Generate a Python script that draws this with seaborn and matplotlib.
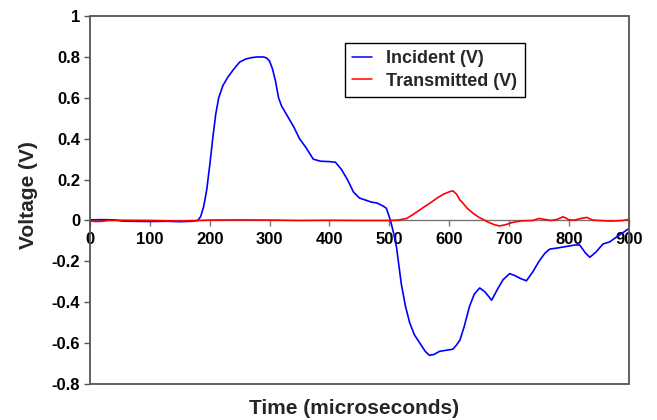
import numpy as np
import pandas as pd
import seaborn as sns
import matplotlib.pyplot as plt
from matplotlib.patches import Rectangle
from matplotlib.lines import Line2D

# Incident signal
inc_time = [0, 20, 40, 55, 70, 100, 130, 150, 170, 180, 185, 190, 195, 200, 205,
            210, 215, 222, 230, 240, 250, 260, 270, 280, 290, 295, 300, 305, 310,
            315, 320, 328, 340, 350, 360, 373, 385, 400, 410, 420, 430, 440, 450,
            460, 470, 480, 490, 495, 502, 507, 512, 516, 520, 527, 534, 542, 551,
            560, 567, 575, 584, 595, 606, 612, 618, 625, 634, 642, 651, 660, 671,
            680, 690, 701, 710, 720, 729, 740, 750, 760, 768, 780, 790, 800, 810,
            818, 828, 835, 845, 857, 868, 880, 890, 900]
inc_volt = [0.003, 0.004, 0.003, -0.003, -0.004, -0.005, -0.004, -0.006, -0.004, 0.0,
            0.02, 0.07, 0.15, 0.27, 0.40, 0.52, 0.60, 0.66, 0.70, 0.74, 0.775, 0.79,
            0.797, 0.80, 0.80, 0.795, 0.78, 0.74, 0.68, 0.60, 0.56, 0.52, 0.46, 0.40,
            0.36, 0.30, 0.29, 0.288, 0.285, 0.25, 0.20, 0.14, 0.11, 0.10, 0.09, 0.085,
            0.07, 0.06, 0.0, -0.06, -0.13, -0.22, -0.31, -0.42, -0.50, -0.56, -0.60,
            -0.64, -0.66, -0.655, -0.64, -0.635, -0.63, -0.61, -0.585, -0.52, -0.42,
            -0.36, -0.33, -0.35, -0.39, -0.34, -0.29, -0.26, -0.27, -0.285, -0.295,
            -0.25, -0.20, -0.16, -0.14, -0.135, -0.13, -0.125, -0.12, -0.12, -0.16,
            -0.18, -0.155, -0.115, -0.105, -0.08, -0.06, -0.04]

# Transmitted signal
tr_time = [0, 10, 20, 30, 50, 100, 150, 200, 250, 300, 350, 400, 450, 500, 515, 529,
           540, 550, 560, 568, 580, 590, 600, 606, 612, 618, 623, 630, 640, 650, 657,
           665, 675, 684, 695, 705, 720, 740, 750, 760, 770, 780, 790, 795, 800, 810,
           820, 830, 835, 840, 850, 870, 890, 900]
tr_volt = [-0.003, -0.005, -0.004, 0.0, 0.001, 0.0, -0.003, 0.002, 0.003, 0.002, 0.0,
           0.001, 0.0, 0.0, 0.002, 0.01, 0.03, 0.05, 0.07, 0.085, 0.11, 0.128, 0.14,
           0.145, 0.13, 0.10, 0.085, 0.06, 0.035, 0.015, 0.005, -0.008, -0.02, -0.027,
           -0.02, -0.01, -0.002, 0.0, 0.01, 0.005, 0.0, 0.005, 0.018, 0.012, 0.003,
           0.002, 0.01, 0.015, 0.008, 0.002, 0.0, -0.003, 0.0, 0.005]

labels = ["Incident (V)", "Transmitted (V)"]
colors = {"Incident (V)": "#0000FF", "Transmitted (V)": "#FF0000"}

df = pd.concat([
    pd.DataFrame({"time": inc_time, "volt": inc_volt, "signal": labels[0]}),
    pd.DataFrame({"time": tr_time, "volt": tr_volt, "signal": labels[1]}),
], ignore_index=True)

sns.set_theme(style="white")
plt.rcParams["font.family"] = ["Liberation Sans", "DejaVu Sans"]
plt.rcParams["font.weight"] = "bold"

fig = plt.figure(figsize=(6.57, 4.2), dpi=100)
ax = fig.add_axes([0.137, 0.0857, 0.820, 0.876])

sns.lineplot(data=df, x="time", y="volt", hue="signal", palette=colors,
             estimator=None, sort=False, linewidth=1.2, legend=False, ax=ax,
             zorder=4)

ax.set_xlim(0, 900)
ax.set_ylim(-0.8, 1)
ax.set_xticks(np.arange(0, 901, 100))
ax.set_yticks(np.arange(-0.8, 1.01, 0.2))
ax.set_yticklabels(["-0.8", "-0.6", "-0.4", "-0.2", "0", "0.2", "0.4", "0.6", "0.8", "1"])

frame_col = "#555555"
for s in ax.spines.values():
    s.set_visible(False)
ax.spines["bottom"].set_visible(True)
ax.spines["bottom"].set_position(("data", 0))
ax.spines["bottom"].set_color("#777777")
ax.spines["bottom"].set_linewidth(1.0)
ax.spines["bottom"].set_zorder(1)
ax.add_patch(Rectangle((0, 0), 1, 1, transform=ax.transAxes, fill=False,
                       edgecolor=frame_col, linewidth=1.3, zorder=5, clip_on=False))

ax.tick_params(axis="both", labelsize=12, colors="black", length=4, width=1,
               direction="out")
ax.tick_params(axis="x", pad=4, color="#777777")
ax.tick_params(axis="y", pad=3, color=frame_col, left=True)
ax.tick_params(axis="x", bottom=True)
for t in ax.get_xticklabels() + ax.get_yticklabels():
    t.set_fontweight("bold")

ax.set_xlabel("Time (microseconds)", fontsize=15, fontweight="bold")
ax.set_ylabel("Voltage (V)", fontsize=15, fontweight="bold")
ax.xaxis.set_label_coords(0.49, -0.04)
ax.yaxis.set_label_coords(-0.097, 0.514)

handles = [Line2D([], [], color=colors[l], linewidth=1.1) for l in labels]
leg = ax.legend(handles, labels, loc="upper left", bbox_to_anchor=(0.473, 0.927),
                borderaxespad=0, fancybox=False, framealpha=1, handlelength=1.1,
                fontsize=13, borderpad=0.4, labelspacing=0.3)
for t in leg.get_texts():
    t.set_fontweight("bold")
leg.get_frame().set_edgecolor("black")
leg.get_frame().set_linewidth(1.0)

fig.savefig("out.png", dpi=100)
